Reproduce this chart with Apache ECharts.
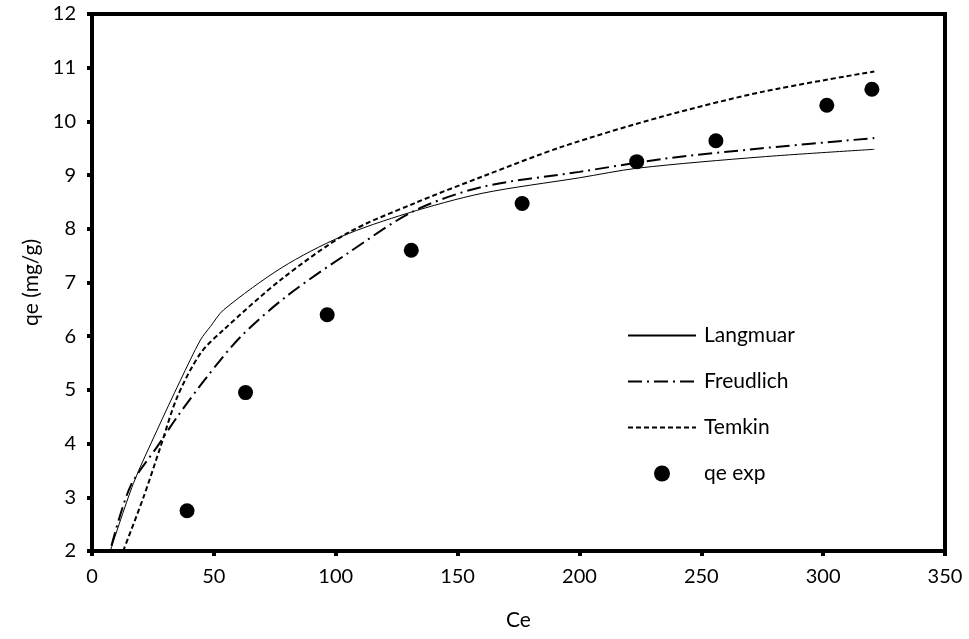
<!DOCTYPE html>
<html>
<head>
<meta charset="utf-8">
<script src="https://cdn.jsdelivr.net/npm/echarts@6/dist/echarts.min.js"></script>
<style>
  html, body { margin: 0; padding: 0; background: #fff; }
  #chart { width: 969px; height: 639px; }
</style>
</head>
<body>
<div id="chart"></div>
<script>
// experimental points [Ce, qe]
var qeExp = [
  [39, 2.75], [63, 4.95], [96.5, 6.4], [131, 7.6], [176.5, 8.47],
  [223.5, 9.25], [256, 9.64], [301.5, 10.3], [320, 10.6]
]
// model curves
var langmuar = [
  [7.5, 2.0], [17, 3.26], [26.7, 4.25], [36.3, 5.18], [44.5, 5.93], [48.6, 6.18],
  [54, 6.49], [78, 7.28], [102, 7.85], [129.5, 8.29], [160, 8.66], [200, 8.95],
  [224, 9.13], [275, 9.34], [321, 9.48]
]
var freudlich = [
  [8, 2.1], [15.7, 3.2], [26.7, 3.94], [35, 4.5], [47.3, 5.25], [61, 5.99],
  [80, 6.75], [104.8, 7.54], [132, 8.33], [160, 8.78], [200, 9.06], [234, 9.3],
  [275, 9.5], [321, 9.69]
]
var temkin = [
  [12.8, 2.0], [21.2, 3.01], [28.1, 3.94], [35, 4.87], [44.5, 5.68], [54, 6.12],
  [78, 7.07], [104.8, 7.92], [132, 8.47], [160, 8.97], [193, 9.53], [234, 10.09],
  [275, 10.55], [321, 10.93]
]

var font = 'Lato'
var chart = echarts.init(document.getElementById('chart'), null, { renderer: 'canvas' })

// hide the marker that line series put in the middle of their legend icon
var noMarker = { opacity: 0 }

chart.setOption({
  animation: false,
  backgroundColor: '#fff',
  grid: {
    left: 92, right: 24, top: 14, bottom: 88,
    show: true, borderColor: '#000', borderWidth: 4
  },
  legend: {
    orient: 'vertical',
    left: 627,
    top: 325,
    padding: 0,
    itemWidth: 68,
    itemHeight: 16,
    itemGap: 25,
    textStyle: { fontFamily: font, fontSize: 21, color: '#000', lineHeight: 16, padding: [0, 0, 0, 3] },
    data: [
      { name: 'Langmuar', itemStyle: noMarker },
      { name: 'Freudlich', itemStyle: noMarker },
      { name: 'Temkin', itemStyle: noMarker },
      { name: 'qe exp' }
    ]
  },
  xAxis: {
    type: 'value',
    min: 0, max: 350, interval: 50,
    name: 'Ce',
    nameLocation: 'middle',
    nameGap: 59,
    nameTextStyle: { fontFamily: font, fontSize: 21, color: '#000' },
    axisLine: { onZero: false, lineStyle: { color: '#000', width: 4 } },
    axisTick: { inside: false, length: 5, lineStyle: { color: '#000', width: 4 } },
    axisLabel: { fontFamily: font, fontSize: 20, color: '#000', margin: 16 },
    splitLine: { show: false }
  },
  yAxis: {
    type: 'value',
    min: 2, max: 12, interval: 1,
    name: 'qe (mg/g)',
    nameLocation: 'middle',
    nameGap: 49,
    nameTextStyle: { fontFamily: font, fontSize: 21, color: '#000' },
    axisLine: { onZero: false, lineStyle: { color: '#000', width: 4 } },
    axisTick: { inside: false, length: 5, lineStyle: { color: '#000', width: 4 } },
    axisLabel: { fontFamily: font, fontSize: 20, color: '#000', margin: 16 },
    splitLine: { show: false }
  },
  series: [
    {
      name: 'Langmuar',
      type: 'line',
      data: langmuar,
      smooth: 0.3,
      symbol: 'none',
      itemStyle: { color: '#000' },
      lineStyle: { color: '#000', width: 1 }
    },
    {
      name: 'Freudlich',
      type: 'line',
      data: freudlich,
      smooth: 0.3,
      symbol: 'none',
      itemStyle: { color: '#000' },
      lineStyle: { color: '#000', width: 2, type: [14, 5, 2, 5] }
    },
    {
      name: 'Temkin',
      type: 'line',
      data: temkin,
      smooth: 0.3,
      symbol: 'none',
      itemStyle: { color: '#000' },
      lineStyle: { color: '#000', width: 2, type: [5, 3] }
    },
    {
      name: 'qe exp',
      type: 'scatter',
      data: qeExp,
      symbol: 'circle',
      symbolSize: 15,
      itemStyle: { color: '#000', opacity: 1 }
    }
  ]
})
</script>
</body>
</html>
